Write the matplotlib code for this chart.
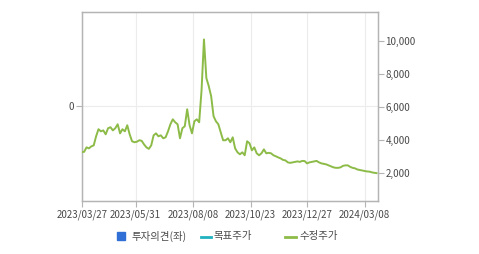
import matplotlib
matplotlib.use("Agg")
import matplotlib.pyplot as plt
from matplotlib.lines import Line2D
from matplotlib.patches import Rectangle
import numpy as np

plt.rcParams["font.family"] = ["Noto Sans CJK KR", "DejaVu Sans"]

# adjusted close price, one value every 2 trading days (2023/03/27 ~ 2024/03)
price = [
    3277, 3290, 3560, 3500, 3620, 3680, 4230, 4660, 4530, 4590,
    4350, 4720, 4780, 4590, 4720, 4960, 4410, 4660, 4530, 4900,
    4350, 3930, 3870, 3900, 3990, 3960, 3740, 3560, 3470, 3680,
    4290, 4410, 4230, 4290, 4110, 4170, 4530, 4960, 5260, 5080,
    4960, 4110, 4720, 4840, 5870, 4900, 4410, 5140, 5260, 5080,
    7030, 10100, 7760, 7270, 6660, 5450, 5140, 4960, 4470, 3990,
    3990, 4110, 3870, 4170, 3500, 3260, 3140, 3260, 3080, 3930,
    3810, 3380, 3560, 3200, 3080, 3200, 3440, 3200, 3230, 3200,
    3080, 3020, 2950, 2890, 2800, 2770, 2650, 2620, 2650, 2680,
    2710, 2680, 2740, 2730, 2590, 2650, 2680, 2710, 2740, 2650,
    2590, 2560, 2530, 2470, 2410, 2350, 2320, 2320, 2350, 2440,
    2470, 2470, 2380, 2320, 2290, 2220, 2190, 2160, 2130, 2100,
    2090, 2050, 2020, 2000,
]
step = 2  # trading days between samples
date_labels = ["2023/03/27", "2023/05/31", "2023/08/08", "2023/10/23", "2023/12/27", "2024/03/08"]
date_pos = [0, 45, 93, 141, 188, 236]  # trading-day index of each label
right_ticks = [2000, 4000, 6000, 8000, 10000]

x = np.arange(len(price)) * step

fig = plt.figure(figsize=(4.79, 2.54), dpi=100)
ax = fig.add_axes([0.1706, 0.2106, 0.618, 0.741])
ax2 = ax.twinx()

grey = "#b4b4b4"
txt = "#4a4a4a"

# left axis: opinion (empty), only 0 in the middle
ax.set_ylim(-1, 1)
ax.set_yticks([0])
ax.set_yticklabels(["0"])
ax.set_xlim(0, (len(price) - 1) * step + 1)
ax.set_xticks(date_pos)
ax.set_xticklabels(date_labels)
ax.grid(True, color="#ececec", linewidth=0.8)
ax.set_axisbelow(True)

ax2.plot(x, price, color="#8dbb48", linewidth=1.4, zorder=3)
ax2.set_ylim(340, 11745)
ax2.set_yticks(right_ticks)
ax2.set_yticklabels([f"{v:,}" for v in right_ticks])

for a in (ax, ax2):
    for s in a.spines.values():
        s.set_color(grey)
        s.set_linewidth(0.9)
    a.tick_params(colors=grey, labelcolor=txt, labelsize=7, length=4, width=0.8, pad=1.5)

ax.tick_params(axis="x", pad=2.5)

# legend
fig.patches.append(Rectangle((117 / 479, 1 - 240 / 254), 8 / 479, 8 / 254,
                             transform=fig.transFigure, color="#2f6fd6"))
fig.text(131 / 479, 1 - 236.5 / 254, "투자의견(좌)", fontsize=7.5, color=txt, va="center")
fig.lines.append(Line2D([201 / 479, 211 / 479], [1 - 237 / 254] * 2,
                        transform=fig.transFigure, color="#20b2c0", linewidth=2))
fig.text(214 / 479, 1 - 236.5 / 254, "목표주가", fontsize=7.5, color=txt, va="center")
fig.lines.append(Line2D([285 / 479, 296 / 479], [1 - 237 / 254] * 2,
                        transform=fig.transFigure, color="#8dbb48", linewidth=2))
fig.text(299 / 479, 1 - 236.5 / 254, "수정주가", fontsize=7.5, color=txt, va="center")

fig.savefig("out.png", dpi=100)
